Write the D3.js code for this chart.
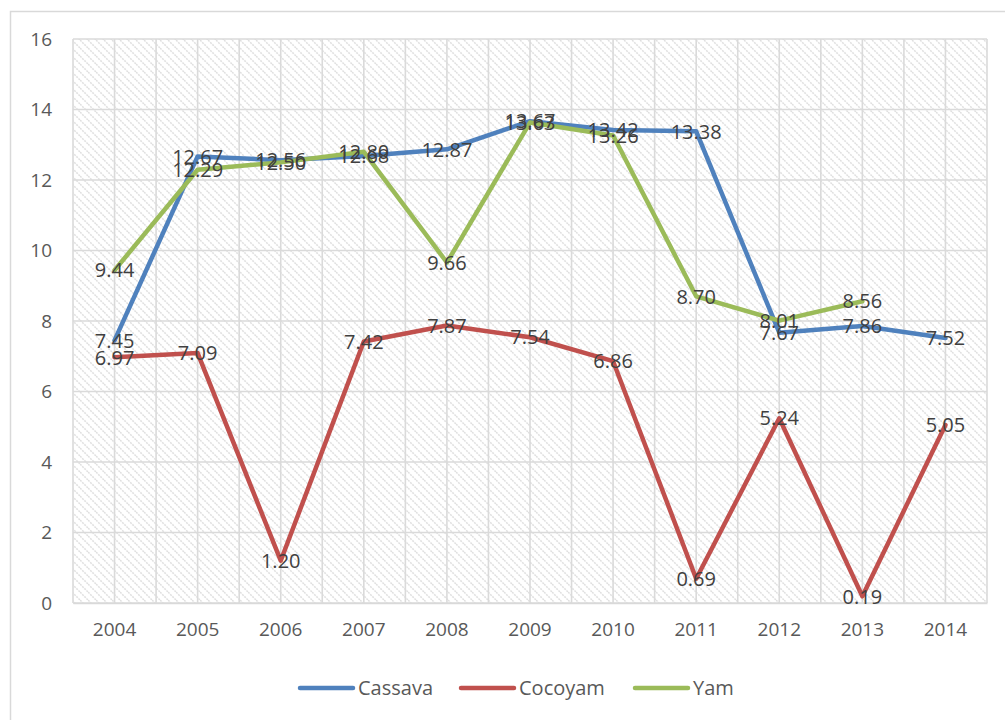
<!DOCTYPE html>
<html>
<head>
<meta charset="utf-8">
<script src="https://cdn.jsdelivr.net/npm/d3@7"></script>
<style>
  html, body { margin: 0; padding: 0; background: #fff; }
  svg { display: block; }
  text { font-family: "Open Sans", "Noto Sans", sans-serif; }
</style>
</head>
<body>
<svg id="chart" width="1005" height="720"></svg>
<script>
// Production series, 2004–2014
const years = ["2004","2005","2006","2007","2008","2009","2010","2011","2012","2013","2014"];
const cassava = [7.45, 12.67, 12.56, 12.68, 12.87, 13.67, 13.42, 13.38, 7.67, 7.86, 7.52];
const cocoyam = [6.97, 7.09, 1.20, 7.42, 7.87, 7.54, 6.86, 0.69, 5.24, 0.19, 5.05];
const yam     = [9.44, 12.29, 12.50, 12.80, 9.66, 13.63, 13.26, 8.70, 8.01, 8.56, null];
const yTicks  = [0, 2, 4, 6, 8, 10, 12, 14, 16];

const series = [
  { name: "Cassava", values: cassava, color: "#4F81BD" },
  { name: "Cocoyam", values: cocoyam, color: "#C0504D" },
  { name: "Yam",     values: yam,     color: "#9BBB59" }
];

const svg = d3.select("#chart");
const plot = { left: 73, right: 987, top: 39, bottom: 603 };

// Outer chart frame
svg.append("rect")
  .attr("x", 10.5).attr("y", 11.5)
  .attr("width", 1010).attr("height", 720)
  .attr("fill", "#fff").attr("stroke", "#d9d9d9").attr("stroke-width", 1.5);

// Diagonal hatch fill for the plot area
const defs = svg.append("defs");
const pat = defs.append("pattern")
  .attr("id", "hatch").attr("patternUnits", "userSpaceOnUse")
  .attr("width", 8).attr("height", 8);
pat.append("rect").attr("width", 8).attr("height", 8).attr("fill", "#fff");
pat.append("path")
  .attr("d", "M-2,-2 L10,10 M-2,6 L2,10 M6,-2 L10,2")
  .attr("stroke", "#e0e0e0").attr("stroke-width", 1.5)
  .attr("stroke-dasharray", "2,1");

const x = d3.scaleBand().domain(years).range([plot.left, plot.right]).padding(0);
const y = d3.scaleLinear().domain([0, 16]).range([plot.bottom, plot.top]);
const cx = d => x(d) + x.bandwidth() / 2;

svg.append("rect")
  .attr("x", plot.left).attr("y", plot.top)
  .attr("width", plot.right - plot.left).attr("height", plot.bottom - plot.top)
  .attr("fill", "url(#hatch)");

// Gridlines: vertical at every half category, horizontal at each y tick
const grid = svg.append("g").attr("stroke", "#dadada").attr("stroke-width", 1.6);
const halfSteps = d3.range(0, years.length * 2 + 1);
grid.selectAll("line.v").data(halfSteps).join("line")
  .attr("class", "v")
  .attr("x1", k => plot.left + k * x.bandwidth() / 2)
  .attr("x2", k => plot.left + k * x.bandwidth() / 2)
  .attr("y1", plot.top).attr("y2", plot.bottom);
grid.selectAll("line.h").data(yTicks).join("line")
  .attr("class", "h")
  .attr("x1", plot.left).attr("x2", plot.right)
  .attr("y1", d => y(d)).attr("y2", d => y(d));

// Axes
const yAxis = svg.append("g")
  .attr("transform", `translate(${plot.left},0)`)
  .call(d3.axisLeft(y).tickValues(yTicks).tickSize(0).tickPadding(21).tickFormat(d3.format("d")));
yAxis.select(".domain").remove();
yAxis.selectAll("text").attr("fill", "#595959").style("font-size", "19px");

const xAxis = svg.append("g")
  .attr("transform", `translate(0,${plot.bottom})`)
  .call(d3.axisBottom(x).tickSize(0).tickPadding(20));
xAxis.select(".domain").attr("stroke", "#d9d9d9").attr("stroke-width", 1.6);
xAxis.selectAll("text").attr("fill", "#595959").style("font-size", "19px");

// Lines
const line = d3.line()
  .defined(d => d.v != null)
  .x(d => cx(d.year))
  .y(d => y(d.v));

series.forEach(s => {
  const pts = years.map((yr, i) => ({ year: yr, v: s.values[i] }));
  svg.append("path")
    .datum(pts)
    .attr("d", line)
    .attr("fill", "none")
    .attr("stroke", s.color)
    .attr("stroke-width", 4.5)
    .attr("stroke-linejoin", "round")
    .attr("stroke-linecap", "round");
});

// Data labels centred on each point
series.forEach(s => {
  const pts = years.map((yr, i) => ({ year: yr, v: s.values[i] })).filter(d => d.v != null);
  svg.append("g").selectAll("text").data(pts).join("text")
    .attr("x", d => cx(d.year))
    .attr("y", d => y(d.v))
    .attr("dy", "0.36em")
    .attr("text-anchor", "middle")
    .attr("fill", "#404040")
    .style("font-size", "20px")
    .text(d => d.v.toFixed(2));
});

// Legend
const legend = svg.append("g").attr("transform", "translate(0,688)");
const legendX = [300, 461, 635];
series.forEach((s, i) => {
  const g = legend.append("g").attr("transform", `translate(${legendX[i]},0)`);
  g.append("line").attr("x1", 0).attr("x2", 53).attr("y1", 0).attr("y2", 0)
    .attr("stroke", s.color).attr("stroke-width", 4.5).attr("stroke-linecap", "round");
  g.append("text").attr("x", 58).attr("y", 0).attr("dy", "0.36em")
    .attr("fill", "#595959").style("font-size", "20px").text(s.name);
});
</script>
</body>
</html>
